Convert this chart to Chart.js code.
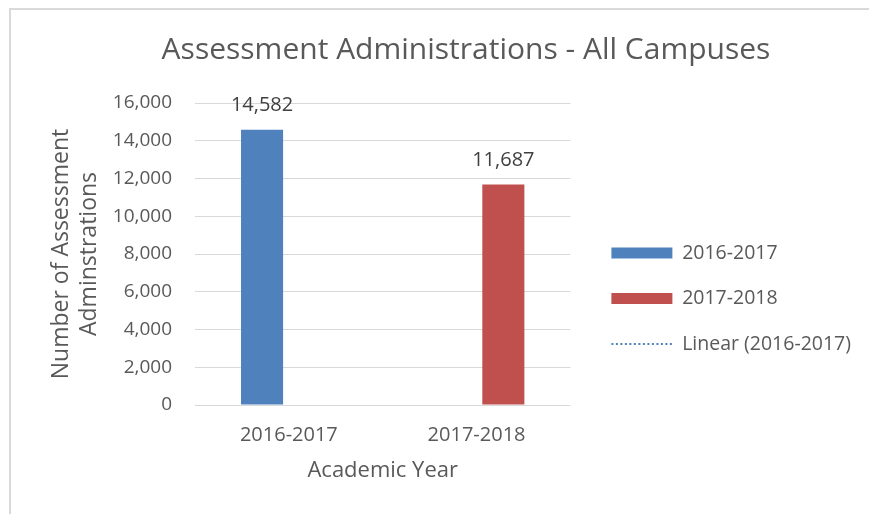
<!DOCTYPE html>
<html>
<head>
<meta charset="utf-8">
<script src="https://cdn.jsdelivr.net/npm/chart.js@4.4.1/dist/chart.umd.min.js"></script>
<style>
  html, body { margin: 0; padding: 0; background: #fff; overflow: hidden; }
  #cadre {
    position: absolute; left: 9px; top: 8px; width: 1000px; height: 600px;
    border-left: 2px solid #d9d9d9; border-top: 2px solid #d9d9d9;
  }
  #graph { position: absolute; left: 0; top: 0; }
</style>
</head>
<body>
<div id="cadre"><canvas id="graph" width="910" height="504"></canvas></div>
<script>
// === DONNEES ===
const titre = "Assessment Administrations - All Campuses";
const annees = ["2016-2017", "2017-2018"];
const serie1617 = [14582, null];
const serie1718 = [null, 11687];
const tendance = [];            // Linear (2016-2017) : rien de visible
const ticksY = [0, 2000, 4000, 6000, 8000, 10000, 12000, 14000, 16000];
const titreY = ["Number of Assessment", "Adminstrations"];
const titreX = "Academic Year";

const BLEU = "#4f81bd";
const ROUGE = "#c0504d";
const TEXTE = "#595959";

Chart.defaults.font.family = '"Open Sans", sans-serif';
Chart.defaults.color = TEXTE;

// === ETIQUETTES DE VALEUR ===
const etiquettes = {
  id: "etiquettes",
  afterDatasetsDraw(chart) {
    const ctx = chart.ctx;
    ctx.save();
    ctx.font = '20px "Open Sans"';
    ctx.fillStyle = "#404040";
    ctx.textAlign = "center";
    ctx.textBaseline = "middle";
    chart.data.datasets.forEach((ds, i) => {
      if (ds.type === "line") return;
      chart.getDatasetMeta(i).data.forEach((bar, j) => {
        const v = ds.data[j];
        if (v == null) return;
        ctx.fillText(v.toLocaleString("en-US"), bar.x, bar.y - 24);
      });
    });
    ctx.restore();
  }
};

// === GRAPHIQUE ===
new Chart(document.getElementById("graph"), {
  type: "bar",
  data: {
    labels: annees,
    datasets: [
      { label: "2016-2017", data: serie1617, backgroundColor: BLEU, borderWidth: 0,
        categoryPercentage: 0.571, barPercentage: 0.785 },
      { label: "2017-2018", data: serie1718, backgroundColor: ROUGE, borderWidth: 0,
        categoryPercentage: 0.571, barPercentage: 0.785 },
      { label: "Linear (2016-2017)", type: "line", data: tendance, borderColor: BLEU,
        borderWidth: 2, borderDash: [2, 2], pointRadius: 0, fill: false }
    ]
  },
  options: {
    responsive: false,
    animation: false,
    layout: { padding: 0 },
    plugins: {
      title: {
        display: true,
        text: titre,
        color: TEXTE,
        font: { size: 30, weight: "normal", lineHeight: 1.2 },
        padding: { top: 22, bottom: 35 }
      },
      legend: {
        position: "right",
        align: "center",
        maxWidth: 400,
        title: { display: true, text: " ", font: { size: 10, lineHeight: 1 }, padding: { top: 63, bottom: 0 } },
        labels: {
          usePointStyle: true,
          pointStyleWidth: 61,
          boxHeight: 11,
          padding: 26,
          color: TEXTE,
          font: { size: 19.5 },
          generateLabels: chart => chart.data.datasets.map((ds, i) => ({
            text: ds.label,
            fillStyle: ds.type === "line" ? "rgba(0,0,0,0)" : ds.backgroundColor,
            strokeStyle: ds.type === "line" ? ds.borderColor : ds.backgroundColor,
            lineWidth: ds.type === "line" ? 2 : 0,
            lineDash: ds.type === "line" ? [2, 2.5] : [],
            pointStyle: ds.type === "line" ? "line" : "rect",
            fontColor: TEXTE,
            hidden: false,
            datasetIndex: i
          }))
        }
      },
      tooltip: { enabled: false }
    },
    scales: {
      x: {
        grid: { display: false, drawTicks: false, tickLength: 0 },
        border: { display: false },
        ticks: { padding: 18, font: { size: 20 }, color: TEXTE },
        title: { display: true, text: titreX, font: { size: 22 }, color: TEXTE, padding: { top: 0, bottom: 30 } },
        afterFit: s => { s.height = 109; }
      },
      y: {
        min: 0,
        max: 16000,
        afterBuildTicks: s => { s.ticks = ticksY.map(v => ({ value: v })); },
        grid: { color: "#d9d9d9", drawTicks: false, tickLength: 0 },
        border: { display: false },
        ticks: { padding: 23, font: { size: 19 }, color: TEXTE },
        title: { display: true, text: titreY, font: { size: 23, lineHeight: 1.2 }, color: TEXTE, padding: { top: 37, bottom: 0 } },
        afterFit: s => { s.width = 184; }
      },
      // espaces autour de la legende
      marge1: { type: "linear", position: "right", weight: 0, display: true,
        grid: { display: false }, border: { display: false }, ticks: { display: false },
        afterFit: s => { s.width = 15; } },
      marge2: { type: "linear", position: "right", weight: 2000, display: true,
        grid: { display: false }, border: { display: false }, ticks: { display: false },
        afterFit: s => { s.width = 60; } }
    }
  },
  plugins: [etiquettes]
});
</script>
</body>
</html>
